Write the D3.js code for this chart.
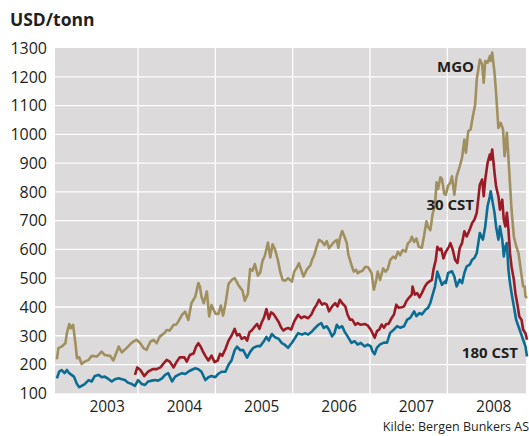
<!DOCTYPE html>
<html>
<head>
<meta charset="utf-8">
<script src="https://cdn.jsdelivr.net/npm/d3@7"></script>
<style>
  body { margin: 0; background: #fff; }
  text { font-family: "Open Sans", "Noto Sans", sans-serif; fill: #231f20; }
</style>
</head>
<body>
<div id="chart"></div>
<script>
// Bunkerpriser, USD/tonn. Tid som desimalår lest av grafen.
const yearLabels = ["2003", "2004", "2005", "2006", "2007", "2008"];
const yTicks = [100, 200, 300, 400, 500, 600, 700, 800, 900, 1000, 1100, 1200, 1300];

const mgo = [
  [2002.95, 218], [2002.97, 257], [2003.01, 262], [2003.06, 274], [2003.08, 309], [2003.11, 341],
  [2003.13, 326], [2003.16, 338], [2003.19, 274], [2003.21, 222], [2003.24, 225], [2003.27, 202],
  [2003.31, 210], [2003.36, 216], [2003.40, 230], [2003.47, 228], [2003.53, 245], [2003.57, 233],
  [2003.64, 230], [2003.68, 214], [2003.75, 262], [2003.79, 242], [2003.85, 257], [2003.90, 271],
  [2003.94, 280], [2003.98, 286], [2004.03, 274], [2004.07, 257], [2004.11, 251], [2004.16, 280],
  [2004.20, 286], [2004.24, 274], [2004.28, 297], [2004.34, 309], [2004.37, 320], [2004.41, 318],
  [2004.46, 338], [2004.49, 338], [2004.52, 349], [2004.57, 373], [2004.61, 384], [2004.65, 355],
  [2004.69, 413], [2004.74, 436], [2004.78, 483], [2004.80, 471], [2004.82, 436], [2004.85, 413],
  [2004.89, 454], [2004.92, 367], [2004.95, 407], [2005.00, 377], [2005.04, 376], [2005.07, 405],
  [2005.10, 370], [2005.13, 410], [2005.17, 480], [2005.21, 494], [2005.25, 500], [2005.29, 480],
  [2005.32, 468], [2005.35, 457], [2005.38, 422], [2005.42, 445], [2005.45, 532], [2005.48, 526],
  [2005.51, 549], [2005.55, 509], [2005.58, 520], [2005.61, 561], [2005.64, 578], [2005.68, 624],
  [2005.71, 572], [2005.74, 618], [2005.77, 601], [2005.81, 561], [2005.84, 520], [2005.87, 494],
  [2005.90, 491], [2005.94, 500], [2005.99, 488], [2006.02, 523], [2006.05, 535], [2006.08, 552],
  [2006.11, 529], [2006.14, 506], [2006.18, 529], [2006.23, 546], [2006.25, 564], [2006.28, 581],
  [2006.31, 610], [2006.34, 633], [2006.38, 627], [2006.41, 615], [2006.44, 629], [2006.47, 604],
  [2006.51, 618], [2006.54, 627], [2006.57, 633], [2006.59, 606], [2006.61, 639], [2006.64, 664],
  [2006.67, 644], [2006.70, 621], [2006.72, 581], [2006.76, 546], [2006.79, 523], [2006.82, 529],
  [2006.84, 517], [2006.87, 523], [2006.90, 525], [2006.94, 540], [2006.98, 537], [2007.02, 517],
  [2007.05, 460], [2007.08, 494], [2007.10, 523], [2007.13, 494], [2007.17, 534], [2007.20, 523],
  [2007.23, 532], [2007.26, 563], [2007.30, 575], [2007.33, 569], [2007.36, 592], [2007.39, 580],
  [2007.42, 598], [2007.46, 592], [2007.49, 621], [2007.52, 629], [2007.54, 644], [2007.57, 626],
  [2007.60, 638], [2007.63, 609], [2007.67, 606], [2007.70, 649], [2007.73, 698], [2007.75, 678],
  [2007.78, 667], [2007.81, 724], [2007.84, 753], [2007.86, 833], [2007.88, 810], [2007.91, 851],
  [2007.93, 845], [2007.96, 793], [2007.98, 790], [2008.01, 822], [2008.04, 832], [2008.06, 854],
  [2008.09, 790], [2008.12, 854], [2008.16, 889], [2008.19, 918], [2008.22, 982], [2008.24, 936],
  [2008.27, 1011], [2008.30, 1017], [2008.33, 1063], [2008.36, 1104], [2008.38, 1191], [2008.42, 1260],
  [2008.45, 1243], [2008.47, 1179], [2008.49, 1255], [2008.52, 1249], [2008.55, 1272], [2008.56, 1255],
  [2008.58, 1284], [2008.61, 1214], [2008.63, 1144], [2008.66, 1022], [2008.69, 1040], [2008.72, 1017],
  [2008.74, 924], [2008.77, 1005], [2008.80, 872], [2008.83, 738], [2008.86, 645], [2008.89, 611],
  [2008.92, 587], [2008.95, 529], [2008.98, 471], [2009.00, 471], [2009.01, 437], [2009.03, 431]
];

const cst30 = [
  [2003.96, 164], [2003.99, 190], [2004.03, 181], [2004.08, 160], [2004.13, 175], [2004.19, 184],
  [2004.24, 184], [2004.29, 190], [2004.34, 207], [2004.37, 216], [2004.41, 210], [2004.46, 190],
  [2004.50, 210], [2004.54, 225], [2004.60, 225], [2004.63, 210], [2004.67, 233], [2004.72, 239],
  [2004.75, 262], [2004.78, 274], [2004.81, 262], [2004.84, 245], [2004.87, 230], [2004.91, 214],
  [2004.95, 231], [2004.99, 208], [2005.03, 214], [2005.06, 237], [2005.09, 231], [2005.13, 254],
  [2005.17, 283], [2005.21, 301], [2005.25, 324], [2005.28, 301], [2005.31, 306], [2005.34, 289],
  [2005.38, 295], [2005.41, 283], [2005.44, 312], [2005.47, 318], [2005.50, 329], [2005.54, 341],
  [2005.57, 324], [2005.60, 347], [2005.63, 364], [2005.66, 393], [2005.69, 358], [2005.72, 381],
  [2005.75, 376], [2005.78, 364], [2005.82, 347], [2005.85, 329], [2005.88, 318], [2005.91, 324],
  [2005.94, 327], [2005.98, 321], [2006.02, 350], [2006.07, 373], [2006.11, 361], [2006.15, 367],
  [2006.20, 361], [2006.24, 373], [2006.28, 396], [2006.31, 408], [2006.34, 425], [2006.38, 408],
  [2006.41, 413], [2006.44, 408], [2006.47, 385], [2006.51, 402], [2006.55, 413], [2006.58, 402],
  [2006.61, 425], [2006.64, 413], [2006.68, 402], [2006.71, 373], [2006.74, 356], [2006.77, 356],
  [2006.81, 338], [2006.84, 344], [2006.88, 338], [2006.93, 341], [2006.97, 336], [2007.01, 321],
  [2007.03, 310], [2007.06, 293], [2007.09, 316], [2007.12, 322], [2007.15, 339], [2007.18, 328],
  [2007.21, 341], [2007.24, 341], [2007.28, 362], [2007.31, 374], [2007.34, 408], [2007.37, 397],
  [2007.41, 399], [2007.44, 402], [2007.47, 420], [2007.50, 431], [2007.54, 443], [2007.55, 471],
  [2007.58, 443], [2007.61, 448], [2007.64, 433], [2007.67, 448], [2007.71, 471], [2007.74, 483],
  [2007.77, 489], [2007.80, 494], [2007.82, 529], [2007.85, 563], [2007.87, 609], [2007.90, 598],
  [2007.92, 603], [2007.95, 569], [2007.98, 592], [2008.02, 609], [2008.04, 622], [2008.07, 599],
  [2008.10, 564], [2008.13, 553], [2008.16, 605], [2008.19, 622], [2008.22, 663], [2008.25, 645],
  [2008.29, 669], [2008.32, 692], [2008.35, 703], [2008.38, 727], [2008.42, 825], [2008.45, 843],
  [2008.47, 785], [2008.49, 843], [2008.52, 901], [2008.55, 930], [2008.56, 912], [2008.58, 947],
  [2008.61, 866], [2008.63, 819], [2008.66, 785], [2008.68, 738], [2008.71, 773], [2008.73, 703],
  [2008.75, 680], [2008.77, 727], [2008.79, 669], [2008.81, 587], [2008.83, 541], [2008.86, 495],
  [2008.88, 448], [2008.91, 402], [2008.93, 367], [2008.96, 355], [2008.98, 321], [2009.01, 309],
  [2009.03, 286]
];

const cst180 = [
  [2002.95, 152], [2002.98, 175], [2003.01, 181], [2003.05, 170], [2003.08, 181], [2003.11, 170],
  [2003.14, 164], [2003.17, 158], [2003.21, 132], [2003.24, 121], [2003.27, 126], [2003.31, 132],
  [2003.36, 146], [2003.40, 141], [2003.44, 160], [2003.49, 164], [2003.53, 156], [2003.57, 158],
  [2003.62, 149], [2003.66, 141], [2003.70, 149], [2003.75, 152], [2003.79, 149], [2003.83, 146],
  [2003.87, 137], [2003.92, 132], [2003.96, 126], [2004.00, 146], [2004.05, 132], [2004.09, 129],
  [2004.13, 141], [2004.18, 144], [2004.22, 146], [2004.26, 144], [2004.31, 152], [2004.35, 164],
  [2004.39, 170], [2004.44, 141], [2004.48, 158], [2004.52, 164], [2004.57, 170], [2004.61, 167],
  [2004.65, 175], [2004.69, 181], [2004.74, 187], [2004.78, 184], [2004.82, 175], [2004.87, 146],
  [2004.91, 156], [2004.95, 160], [2005.00, 156], [2005.04, 168], [2005.08, 175], [2005.13, 175],
  [2005.17, 199], [2005.21, 215], [2005.25, 250], [2005.28, 262], [2005.32, 250], [2005.36, 250],
  [2005.41, 224], [2005.45, 244], [2005.49, 258], [2005.54, 264], [2005.58, 264], [2005.62, 278],
  [2005.66, 296], [2005.69, 283], [2005.73, 306], [2005.77, 295], [2005.82, 289], [2005.86, 274],
  [2005.90, 268], [2005.94, 258], [2005.99, 276], [2006.03, 292], [2006.07, 309], [2006.12, 304],
  [2006.16, 309], [2006.20, 304], [2006.25, 315], [2006.29, 327], [2006.33, 338], [2006.37, 344],
  [2006.40, 327], [2006.44, 333], [2006.47, 321], [2006.51, 298], [2006.54, 309], [2006.57, 338],
  [2006.60, 327], [2006.64, 333], [2006.67, 315], [2006.71, 298], [2006.76, 275], [2006.80, 281],
  [2006.84, 269], [2006.88, 275], [2006.93, 263], [2006.97, 269], [2007.01, 263], [2007.03, 247],
  [2007.06, 236], [2007.09, 259], [2007.13, 270], [2007.18, 276], [2007.22, 276], [2007.26, 310],
  [2007.31, 322], [2007.35, 333], [2007.39, 328], [2007.44, 333], [2007.48, 356], [2007.52, 362],
  [2007.57, 385], [2007.60, 368], [2007.64, 379], [2007.67, 374], [2007.72, 391], [2007.75, 397],
  [2007.78, 414], [2007.81, 443], [2007.84, 471], [2007.87, 523], [2007.90, 500], [2007.93, 477],
  [2007.97, 489], [2007.98, 483], [2008.01, 518], [2008.06, 524], [2008.09, 506], [2008.12, 471],
  [2008.16, 495], [2008.19, 483], [2008.22, 518], [2008.25, 541], [2008.29, 547], [2008.32, 564],
  [2008.35, 570], [2008.38, 587], [2008.40, 622], [2008.42, 657], [2008.46, 634], [2008.49, 680],
  [2008.52, 750], [2008.55, 785], [2008.56, 802], [2008.58, 773], [2008.61, 727], [2008.63, 680],
  [2008.66, 634], [2008.68, 680], [2008.71, 634], [2008.73, 576], [2008.75, 611], [2008.77, 622],
  [2008.79, 529], [2008.81, 483], [2008.83, 448], [2008.86, 402], [2008.89, 355], [2008.92, 332],
  [2008.95, 309], [2008.98, 286], [2009.01, 263], [2009.03, 228]
];

const series = [
  { name: "MGO", data: mgo, colour: "#a0905f" },
  { name: "30 CST", data: cst30, colour: "#9a1b25" },
  { name: "180 CST", data: cst180, colour: "#0b6d94" }
];

const width = 529, height = 436;
const svg = d3.select("#chart").append("svg")
    .attr("width", width)
    .attr("height", height);

const x = d3.scaleLinear()
    .domain([2002.926, 2009.03])
    .range([55, 527]);
const y = d3.scaleLinear()
    .domain([100, 1300])
    .range([393.3, 48]);

//Grå bakgrunn for plottet
svg.append("rect")
    .attr("x", 55)
    .attr("y", y(1300))
    .attr("width", 471)
    .attr("height", y(100) - y(1300))
    .attr("fill", "#dcdadb");

//Horisontale hjelpelinjer
svg.append("g")
    .selectAll("line")
    .data(yTicks.filter(d => d > 100 && d < 1300))
    .join("line")
    .attr("x1", 55)
    .attr("x2", 526)
    .attr("y1", d => y(d))
    .attr("y2", d => y(d))
    .attr("stroke", "#fff")
    .attr("stroke-width", 1.3);

//Loddrette linjer ved hvert årsskifte
svg.append("g")
    .selectAll("line")
    .data(yearLabels.slice(1).map(Number))
    .join("line")
    .attr("x1", d => x(d))
    .attr("x2", d => x(d))
    .attr("y1", y(1300))
    .attr("y2", y(100))
    .attr("stroke", "#fff")
    .attr("stroke-width", 1.3);

//Y-akse tekster
svg.append("g")
    .selectAll("text")
    .data(yTicks)
    .join("text")
    .attr("x", 47)
    .attr("y", d => y(d))
    .attr("dy", "0.36em")
    .attr("text-anchor", "end")
    .style("font-size", "16px")
    .text(d => d);

//Årstall under aksen
svg.append("g")
    .selectAll("text")
    .data(yearLabels)
    .join("text")
    .attr("x", d => x(+d + 0.6))
    .attr("y", 412)
    .attr("text-anchor", "middle")
    .style("font-size", "15.5px")
    .text(d => d);

const line = d3.line()
    .x(d => x(d[0]))
    .y(d => y(d[1]));

series.forEach(s => {
    svg.append("path")
        .datum(s.data)
        .attr("fill", "none")
        .attr("stroke", s.colour)
        .attr("stroke-width", 2.6)
        .attr("stroke-linejoin", "round")
        .attr("d", line);
});

svg.append("text")
    .attr("x", 10)
    .attr("y", 26)
    .style("font-size", "17.5px")
    .style("font-weight", "bold")
    .text("USD/tonn");

//Serienavn i plottet
const labels = [
    { text: "MGO", x: 474, y: 72 },
    { text: "30 CST", x: 474, y: 210 },
    { text: "180 CST", x: 518, y: 358 }
];
svg.append("g")
    .selectAll("text")
    .data(labels)
    .join("text")
    .attr("x", d => d.x)
    .attr("y", d => d.y)
    .attr("text-anchor", "end")
    .style("font-size", "15px")
    .style("font-weight", "bold")
    .text(d => d.text);

svg.append("text")
    .attr("x", 529)
    .attr("y", 431)
    .attr("text-anchor", "end")
    .style("font-size", "12.5px")
    .text("Kilde: Bergen Bunkers AS");
</script>
</body>
</html>
